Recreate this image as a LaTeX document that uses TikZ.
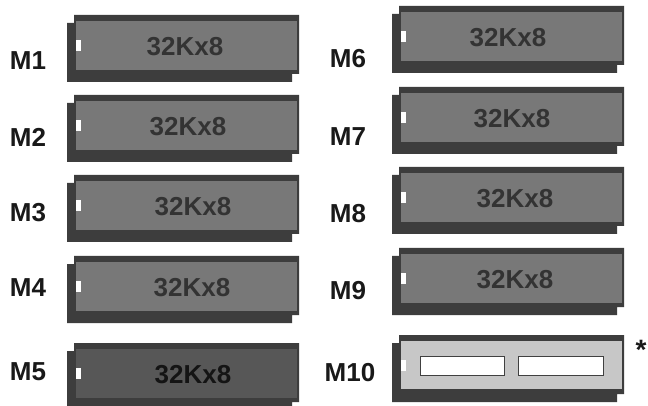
\documentclass[tikz,border=0pt]{standalone}
\usepackage{fontspec}
\setmainfont{Liberation Sans}
\begin{document}
\begin{tikzpicture}[x=1pt,y=-1pt,
  lbl/.style={font=\fontsize{26}{26}\selectfont\bfseries, text=black!90, inner sep=0pt, anchor=center},
  chiptext/.style={font=\fontsize{26}{26}\selectfont\bfseries, inner sep=0pt, anchor=center},
  winbox/.style={fill=white, draw=black!75, line width=1pt}]
\useasboundingbox (0,0) rectangle (648,406);
\fill[white] (0,0) rectangle (648,406);
% #1 name, #2 x0 (front left), #3 T (front top), #4 face fill, #5 text colour, #6 text x
\newcommand\drawchip[6]{%
  \fill[black!76] (#2,#3) -- ({#2+225},#3) -- ({#2+225},{#3+59}) -- ({#2+218},{#3+59})
     -- ({#2+218},{#3+67}) -- ({#2-7},{#3+67}) -- ({#2-7},{#3+8}) -- (#2,{#3+8}) -- cycle;
  \fill[#4] ({#2+2},{#3+6}) rectangle ({#2+223},{#3+55});
  \fill[white] ({#2+2},{#3+25}) rectangle ({#2+7},{#3+36});
  \node[chiptext, text=#5] (#1) at (#6,{#3+32}) {32Kx8};
}
\drawchip{c1}{74}{15}{black!53}{black!80}{185}
\drawchip{c2}{74}{95}{black!53}{black!80}{188}
\drawchip{c3}{74}{175}{black!53}{black!80}{193}
\drawchip{c4}{74}{256}{black!53}{black!80}{192}
\drawchip{c5}{74}{343}{black!66}{black!92}{193}
\drawchip{c6}{399}{6}{black!53}{black!80}{508}
\drawchip{c7}{399}{87}{black!53}{black!80}{512}
\drawchip{c8}{399}{167}{black!53}{black!80}{515}
\drawchip{c9}{399}{248}{black!53}{black!80}{515}
% M10: blank chip with two windows
\fill[black!76] (399,335) -- (624,335) -- (624,394) -- (617,394) -- (617,402) -- (392,402) -- (392,343) -- (399,343) -- cycle;
\fill[black!22] (401,341) rectangle (622,389);
\fill[white] (401,360) rectangle (406,371);
\node[winbox, minimum width=84pt, minimum height=19pt, inner sep=0pt] (w1) at (462,365.5) {};
\node[winbox, minimum width=85pt, minimum height=19pt, inner sep=0pt] (w2) at (560.5,365.5) {};
\node[lbl, font=\fontsize{28}{28}\selectfont\bfseries] (ast) at (641,350) {*};
% labels
\node[lbl] (m1) at (28,61) {M1};
\node[lbl] (m2) at (28,137) {M2};
\node[lbl] (m3) at (28,213) {M3};
\node[lbl] (m4) at (28,288) {M4};
\node[lbl] (m5) at (28,372) {M5};
\node[lbl] (m6) at (348,59) {M6};
\node[lbl] (m7) at (348,137) {M7};
\node[lbl] (m8) at (348,214) {M8};
\node[lbl] (m9) at (348,291) {M9};
\node[lbl] (m10) at (350,373) {M10};
\end{tikzpicture}
\end{document}
